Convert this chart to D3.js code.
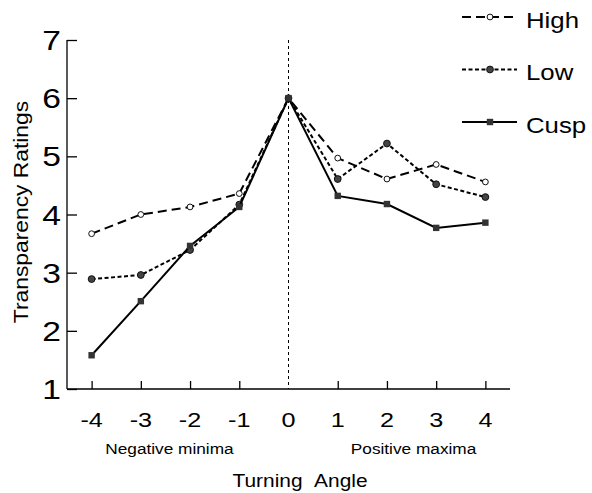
<!DOCTYPE html>
<html>
  <head>
    <meta charset="utf-8">
    <title>Transparency ratings</title>
    <script src="https://cdn.jsdelivr.net/npm/d3@7/dist/d3.min.js"></script>
    <style>
      body { margin: 0; background: #fff; }
      svg { font-family: "Liberation Sans", Arial, sans-serif; }
    </style>
  </head>
  <body>
    <div id="chart"></div>
    <script>
      // data
      let angles = [-4, -3, -2, -1, 0, 1, 2, 3, 4];
      let highVals = [3.67, 4.0, 4.13, 4.36, 6.0, 4.97, 4.61, 4.86, 4.56];
      let lowVals = [2.89, 2.96, 3.39, 4.17, 6.0, 4.61, 5.22, 4.52, 4.30];
      let cuspVals = [1.58, 2.51, 3.46, 4.13, 6.0, 4.32, 4.18, 3.77, 3.86];
      let seriesNames = ["High", "Low", "Cusp"];
      let yTicks = [1, 2, 3, 4, 5, 6, 7];

      let width = 592, height = 493;

      let svg = d3.select("#chart")
        .append("svg")
          .attr("width", width)
          .attr("height", height);

      let x = d3.scaleLinear().domain([-4.5, 4.5]).range([67, 510]);
      let y = d3.scaleLinear().domain([1, 7]).range([389, 40]);

      // the original's lettering is a little wider than Liberation Sans
      function label(px, py, str, size, stretch, anchor, rot) {
        return svg.append("text")
          .attr("transform", "translate(" + px + "," + py + ")" + (rot ? " rotate(" + rot + ")" : "") + " scale(" + stretch + ",1)")
          .attr("text-anchor", anchor)
          .style("font-size", size + "px")
          .text(str);
      }

      // styles per series
      let styles = {
        High: { dash: "9,5", marker: "circle", fill: "#fff", r: 2.9 },
        Low: { dash: "4,2.5", marker: "circle", fill: "#444", r: 3.4 },
        Cusp: { dash: null, marker: "square", fill: "#333", r: 3.2 }
      };
      let series = [
        { name: "High", values: highVals },
        { name: "Low", values: lowVals },
        { name: "Cusp", values: cuspVals }
      ];

      // axes
      let yAxis = d3.axisRight(y)
        .tickValues(yTicks)
        .tickSize(10)
        .tickFormat("");
      svg.append("g")
        .attr("transform", "translate(67,0)")
        .call(yAxis)
        .call(function(g) { g.select(".domain").attr("d", "M0,40V389"); });

      yTicks.forEach(function(d) {
        label(61, y(d) + 10, d, 28, 1.2, "end");
      });

      let xAxis = d3.axisTop(x)
        .tickValues(angles.filter(function(d) { return d != 0; }))
        .tickSize(8)
        .tickFormat("");
      svg.append("g")
        .attr("transform", "translate(0,389)")
        .call(xAxis)
        .call(function(g) { g.select(".domain").attr("d", "M67,0H510"); });

      angles.forEach(function(d) {
        label(x(d), 427, d, 21, 1.2, "middle");
      });

      svg.selectAll(".tick line, .domain")
        .attr("stroke", "#000")
        .attr("stroke-width", 1.3);

      // zero reference line
      svg.append("line")
        .attr("x1", x(0)).attr("x2", x(0))
        .attr("y1", 40).attr("y2", 389)
        .attr("stroke", "#000")
        .attr("stroke-width", 1)
        .attr("stroke-dasharray", "3,3");

      // sub labels
      label((x(-3) + x(-2)) / 2 + 4, 454, "Negative minima", 15, 1.15, "middle");
      label((x(2) + x(3)) / 2 + 2, 454, "Positive maxima", 15, 1.15, "middle");

      label(300, 487, "Turning\u00a0\u00a0Angle", 18.5, 1.13, "middle");
      label(28, 212, "Transparency Ratings", 19.5, 1.17, "middle", -90);

      // lines
      let line = d3.line()
        .x(function(d, i) { return x(angles[i]); })
        .y(function(d) { return y(d); });

      function drawMarker(g, type, cx, cy, st) {
        if (type == "circle") {
          g.append("circle")
            .attr("cx", cx).attr("cy", cy).attr("r", st.r)
            .attr("fill", st.fill)
            .attr("stroke", "#111")
            .attr("stroke-width", 1);
        } else {
          g.append("rect")
            .attr("x", cx - st.r).attr("y", cy - st.r)
            .attr("width", st.r * 2).attr("height", st.r * 2)
            .attr("fill", st.fill);
        }
      }

      series.forEach(function(s) {
        let st = styles[s.name];
        let g = svg.append("g");
        g.append("path")
          .datum(s.values)
          .attr("d", line)
          .attr("fill", "none")
          .attr("stroke", "#000")
          .attr("stroke-width", 2)
          .attr("stroke-dasharray", st.dash);
        s.values.forEach(function(v, i) {
          drawMarker(g, st.marker, x(angles[i]), y(v), st);
        });
      });

      // legend
      let legendY = d3.scalePoint().domain(seriesNames).range([17, 122]);
      seriesNames.forEach(function(name) {
        let st = styles[name];
        let g = svg.append("g");
        let ly = legendY(name);
        g.append("line")
          .attr("x1", 462).attr("x2", 517)
          .attr("y1", ly).attr("y2", ly)
          .attr("stroke", "#000")
          .attr("stroke-width", 2)
          .attr("stroke-dasharray", st.dash);
        drawMarker(g, st.marker, 490, ly, st);
        label(526, ly + 10.5, name, 21.5, 1.2, "start");
      });
    </script>
  </body>
</html>
